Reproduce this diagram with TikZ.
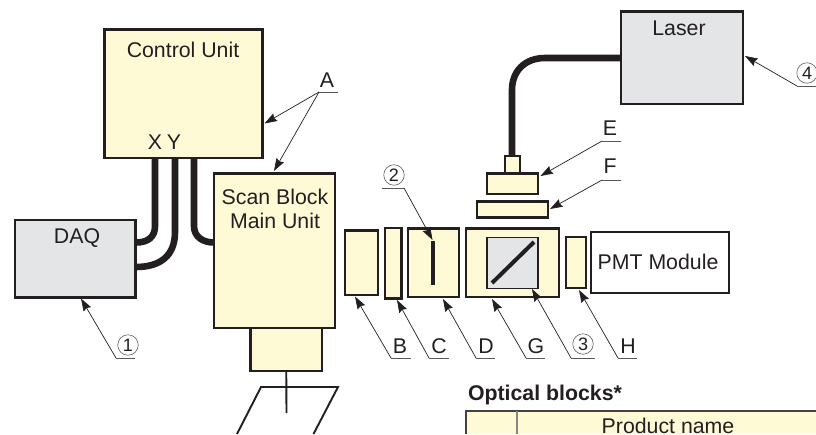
\documentclass[tikz,border=0pt]{standalone}
\usepackage{fontspec}
\setmainfont{Liberation Sans}
\usetikzlibrary{arrows.meta}
\definecolor{cream}{HTML}{FFFAD6}
\definecolor{panel}{HTML}{E4E5E7}
\definecolor{ink}{HTML}{231F20}
\tikzset{
 x=1pt,y=-1pt,
 blockbase/.style={draw=ink,line width=2.4pt,inner sep=0pt,outer sep=0pt,anchor=north west},
 unitbox/.style={blockbase,fill=cream},
 greybox/.style={blockbase,fill=panel},
 whitebox/.style={blockbase,fill=white},
 cable/.style={draw=ink,line width=6.6pt},
 leader/.style={draw=ink,line width=0.7pt,-{Stealth[length=12.5pt,width=8.5pt,inset=1.5pt]}},
 rulestyle/.style={draw=ink!75,line width=0.7pt},
 lab/.style={inner sep=0pt,outer sep=0pt,text=ink,font=\fontsize{21.3}{24}\selectfont},
 num/.style={circle,draw=ink!70,line width=0.6pt,minimum size=20.5pt,inner sep=0pt,outer sep=0pt,text=ink,font=\fontsize{18}{18}\selectfont},
}
\newcommand{\ubox}[6]{\node[#1,minimum width=#4-#2,minimum height=#5-#3] (#6) at (#2,#3) {};}
\begin{document}
\begin{tikzpicture}
\useasboundingbox (0,0) rectangle (816,434);
% cables, behind the boxes
\coordinate (xtop) at (155,158);
\coordinate (ytop) at (175,158);
\coordinate (ztop) at (194,158);
\coordinate (d1) at (136,242.5);
\coordinate (d2) at (136,267);
\coordinate (s1) at (214,242.5);
\coordinate (lz) at (621,58);
\coordinate (fb) at (512,158);
\draw[cable] (xtop) -- (155,226) .. controls (155,237) and (148,242.5) .. (d1);
\draw[cable] (ytop) -- (175,232) .. controls (175,256) and (160,267) .. (d2);
\draw[cable] (ztop) -- (194,226) .. controls (194,237) and (203,242.5) .. (s1);
\draw[cable] (lz) -- (545,58) .. controls (525,58) and (512,71) .. (512,90) -- (fb);
% boxes
\ubox{unitbox}{104.5}{29.5}{262.5}{158}{ctrl}
\node[lab] (tctrl) at (183,50) {Control Unit};
\node[lab] (tx) at (155,142) {X};
\node[lab] (ty) at (174,142) {Y};
\ubox{greybox}{15}{220}{135.5}{297.5}{daq}
\node[lab] (tdaq) at (77,238.5) {DAQ};
\ubox{unitbox}{214}{173.5}{335}{328}{scan}
\node[lab,align=center] (tscan) at (275,209) {Scan Block\\Main Unit};
\ubox{unitbox}{250.5}{328}{322}{371}{foot}
\coordinate (stem) at (286.5,413);
\coordinate (pa) at (237,434);
\coordinate (pb) at (261,387);
\coordinate (pc) at (338,387);
\coordinate (pd) at (313.5,434);
\draw[draw=ink,line width=1.9pt] (foot.south) -- (stem);
\draw[draw=ink,line width=1.9pt] (pa) -- (pb) -- (pc) -- (pd);
\ubox{unitbox}{345}{230.5}{378}{295}{bb}
\ubox{unitbox}{385}{228}{401.5}{298.5}{cb}
\ubox{unitbox}{408}{228.5}{459}{297}{db}
\coordinate (sa) at (433,241);
\coordinate (sb) at (433,285);
\draw[draw=ink,line width=4pt] (sa) -- (sb);
\ubox{unitbox}{466}{228.5}{559}{297}{gb}
\node[blockbase,line width=1.5pt,fill=panel,minimum width=51pt,minimum height=51pt] (gi) at (487,237.5) {};
\coordinate (ma) at (492,283);
\coordinate (mb) at (534,242);
\draw[draw=ink,line width=4pt] (ma) -- (mb);
\ubox{unitbox}{566}{237}{586}{288}{hb}
\ubox{whitebox}{591}{232}{729}{293}{pmt}
\node[lab] (tpmt) at (658,262) {PMT Module};
\ubox{greybox}{621}{11.5}{743}{104}{laser}
\node[lab] (tlaser) at (679,28) {Laser};
\ubox{unitbox}{505}{156}{520}{173}{ea}
\ubox{unitbox}{487}{173.5}{538}{194}{eb}
\ubox{unitbox}{477}{201.5}{548}{217.5}{fb2}
% callouts
\newcommand{\callout}[8]{%
 % #1 node name, #2 node style, #3 text, #4,#5 text pos, #6 rule start x, #7 rule end x, #8 rule y
 \node[#2] (#1) at (#4,#5) {#3};
 \coordinate (#1s) at (#6,#8);
 \coordinate (#1e) at (#7,#8);
 \draw[rulestyle] (#1s) -- (#1e);
}
\callout{la}{lab}{A}{327}{80}{319}{338}{92}
\coordinate (ta1) at (264.5,123.5);
\coordinate (ta2) at (274,171);
\draw[leader] (las) -- (ta1);
\draw[leader] (las) -- (ta2);
\callout{l1}{num}{1}{128}{345}{116}{135}{358}
\coordinate (t1) at (81,298.5);
\draw[leader] (l1s) -- (t1);
\callout{l2}{num}{2}{394}{175}{382}{404}{188}
\coordinate (t2) at (432.5,240);
\draw[leader] (l2e) -- (t2);
\callout{lb}{lab}{B}{400}{346}{391}{411}{358}
\coordinate (tb) at (355,296.5);
\draw[leader] (lbs) -- (tb);
\callout{lc}{lab}{C}{439}{346}{429}{449}{358}
\coordinate (tc) at (397,300);
\draw[leader] (lcs) -- (tc);
\callout{ld}{lab}{D}{486}{346}{476}{495}{358}
\coordinate (td) at (443,299);
\draw[leader] (lds) -- (td);
\callout{lg}{lab}{G}{536}{346}{526}{545}{358}
\coordinate (tg) at (492,299);
\draw[leader] (lgs) -- (tg);
\callout{l3}{num}{3}{583}{344}{571}{595}{358}
\coordinate (t3) at (532,289);
\draw[leader] (l3s) -- (t3);
\callout{lh}{lab}{H}{628}{346}{618}{637}{358}
\coordinate (th) at (579,290);
\draw[leader] (lhs) -- (th);
\callout{le}{lab}{E}{610}{128}{602}{621}{141}
\coordinate (te) at (540.5,176);
\draw[leader] (les) -- (te);
\callout{lf}{lab}{F}{610}{166}{602}{621}{180}
\coordinate (tf) at (550,209);
\draw[leader] (lfs) -- (tf);
\callout{l4}{num}{4}{807}{73}{797}{816}{86}
\coordinate (t4) at (745,56);
\draw[leader] (l4s) -- (t4);
% table fragment
\node[lab,font=\bfseries\fontsize{21.3}{24}\selectfont,anchor=west] (topt) at (468,395) {Optical blocks*};
\coordinate (tl) at (466,434);
\coordinate (tt) at (466,411);
\coordinate (tr) at (817,411);
\coordinate (dv) at (517,411);
\coordinate (dvb) at (517,434);
\fill[cream] (tl) -- (tt) -- (tr) -- (817,434) -- cycle;
\draw[draw=ink!85,line width=1.5pt] (tl) -- (tt) -- (tr);
\draw[draw=ink!55,line width=1.2pt] (dv) -- (dvb);
\node[lab] (tprod) at (668,426) {Product name};
\end{tikzpicture}
\end{document}
